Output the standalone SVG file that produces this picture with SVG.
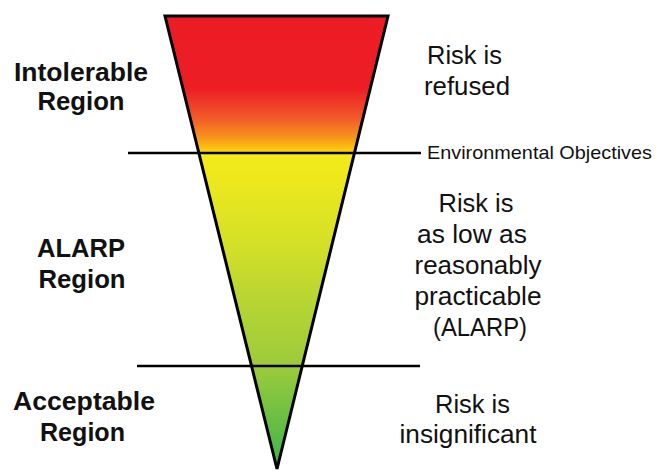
<svg xmlns="http://www.w3.org/2000/svg" width="656" height="471" viewBox="0 0 656 471">
  <style>
    .reg { font-family: "Liberation Sans", Arial, Helvetica, sans-serif; font-weight: bold; font-size: 25px; fill: #111; text-anchor: middle; }
    .risk { font-family: "Liberation Sans", Arial, Helvetica, sans-serif; font-size: 25px; fill: #111; text-anchor: middle; }
    .env { font-family: "Liberation Sans", Arial, Helvetica, sans-serif; font-size: 19px; fill: #111; }
    .line { stroke: #000; stroke-width: 2.6; fill: none; }
  </style>
  <defs>
    <linearGradient id="risk" gradientUnits="userSpaceOnUse" x1="0" y1="16" x2="0" y2="469">
      <stop offset="0" stop-color="#EC1C24"/>
      <stop offset="0.16" stop-color="#EC1E24"/>
      <stop offset="0.225" stop-color="#F15A29"/>
      <stop offset="0.268" stop-color="#F7941D"/>
      <stop offset="0.296" stop-color="#FDCB0C"/>
      <stop offset="0.302" stop-color="#FFE000"/>
      <stop offset="0.306" stop-color="#F2EA1A"/>
      <stop offset="0.34" stop-color="#F0E91B"/>
      <stop offset="0.494" stop-color="#D6E126"/>
      <stop offset="0.627" stop-color="#B8D533"/>
      <stop offset="0.773" stop-color="#9DCB3B"/>
      <stop offset="1" stop-color="#3AB44A"/>
    </linearGradient>
  </defs>

  <g id="funnel">
    <polygon points="165,16 388,16 277,469" fill="url(#risk)" stroke="#000" stroke-width="3" stroke-linejoin="miter"/>
  </g>

  <g id="connectors">
    <line class="line" x1="128" y1="153" x2="421" y2="153"/>
    <line class="line" x1="137" y1="366" x2="420" y2="366"/>
  </g>

  <g id="intolerable">
    <text class="reg" x="81" y="81" textLength="134" lengthAdjust="spacingAndGlyphs">Intolerable</text>
    <text class="reg" x="81" y="110" textLength="87" lengthAdjust="spacingAndGlyphs">Region</text>
  </g>
  <g id="alarp">
    <text class="reg" x="81" y="257" textLength="88" lengthAdjust="spacingAndGlyphs">ALARP</text>
    <text class="reg" x="82" y="288" textLength="87" lengthAdjust="spacingAndGlyphs">Region</text>
  </g>
  <g id="acceptable">
    <text class="reg" x="84" y="410" textLength="142" lengthAdjust="spacingAndGlyphs">Acceptable</text>
    <text class="reg" x="82.5" y="441" textLength="85" lengthAdjust="spacingAndGlyphs">Region</text>
  </g>

  <g id="refused">
    <text class="risk" x="464.5" y="64" textLength="75" lengthAdjust="spacingAndGlyphs">Risk is</text>
    <text class="risk" x="467" y="95" textLength="86" lengthAdjust="spacingAndGlyphs">refused</text>
  </g>
  <g id="environmental-objectives">
    <text class="env" x="427" y="159" textLength="225" lengthAdjust="spacingAndGlyphs">Environmental Objectives</text>
  </g>
  <g id="alarp-desc">
    <text class="risk" x="476" y="212" textLength="75" lengthAdjust="spacingAndGlyphs">Risk is</text>
    <text class="risk" x="472" y="243" textLength="110" lengthAdjust="spacingAndGlyphs">as low as</text>
    <text class="risk" x="478" y="274" textLength="127" lengthAdjust="spacingAndGlyphs">reasonably</text>
    <text class="risk" x="478" y="305" textLength="127" lengthAdjust="spacingAndGlyphs">practicable</text>
    <text class="risk" x="480" y="336" textLength="94" lengthAdjust="spacingAndGlyphs">(ALARP)</text>
  </g>
  <g id="insignificant">
    <text class="risk" x="472.5" y="413" textLength="75" lengthAdjust="spacingAndGlyphs">Risk is</text>
    <text class="risk" x="468" y="443" textLength="137" lengthAdjust="spacingAndGlyphs">insignificant</text>
  </g>
</svg>
